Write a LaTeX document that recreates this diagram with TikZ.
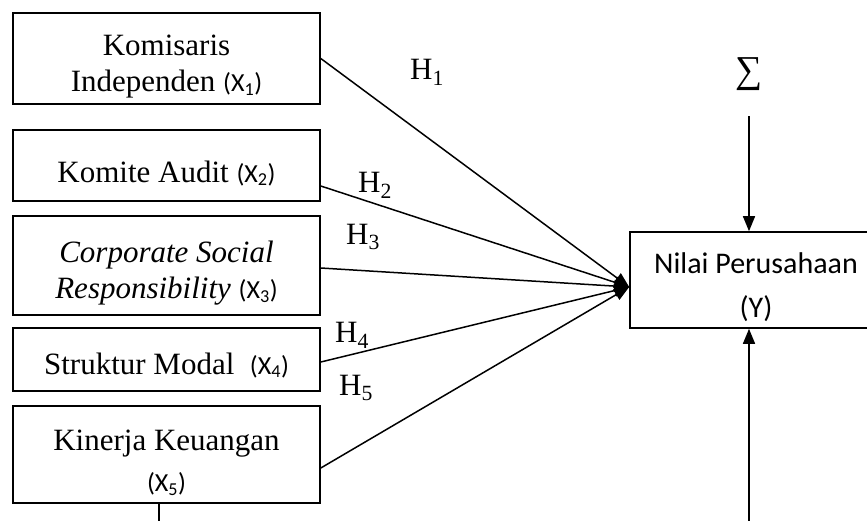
\documentclass[tikz,border=0pt]{standalone}
\usepackage{fontspec}
\setmainfont{Liberation Serif}
\newfontfamily\calfont{Carlito}
\usetikzlibrary{arrows.meta}
\newcommand{\tms}{\fontsize{31}{35.5}\selectfont}
\newcommand{\dn}{\rule{0pt}{37pt}}
\newcommand{\xv}[1]{{\calfont\fontsize{26}{30}\selectfont(X\textsubscript{#1})}}
\begin{document}
\begin{tikzpicture}[x=1pt,y=-1pt,
  box/.style={draw,line width=1.6pt,inner sep=0pt,align=center,font=\tms},
  conn/.style={line width=1.5pt},
  arr/.style={line width=1.5pt,-{Triangle[length=15pt,width=12pt]}},
  hlab/.style={font=\tms,inner sep=0pt}]
\useasboundingbox (0,0) rectangle (867,520);
\clip (0,0) rectangle (867,520);
\node[box,minimum width=307pt,minimum height=91pt] (b1) at (166.5,58.5) {\dn Komisaris\\Independen \xv{1}};
\node[box,minimum width=307pt,minimum height=71pt] (b2) at (166.5,165.5) {\dn Komite Audit \xv{2}};
\node[box,minimum width=307pt,minimum height=99pt] (b3) at (166.5,265.5) {\dn\textit{Corporate Social}\\\textit{Responsibility} \xv{3}};
\node[box,minimum width=307pt,minimum height=63pt] (b4) at (166.5,359.5) {\rule{0pt}{33pt}Struktur Modal\ \ \xv{4}};
\node[box,minimum width=307pt,minimum height=97pt,font=\fontsize{31}{41}\selectfont] (b5) at (166.5,454.5) {\dn Kinerja Keuangan\\\xv{5}};
\node[box,minimum width=252pt,minimum height=96pt,font=\calfont\fontsize{30}{44}\selectfont] (y) at (756,280) {\rule{0pt}{36pt}Nilai Perusahaan\\(Y)};
\node[inner sep=0pt,font=\fontsize{38}{38}\selectfont] (sig) at (749,74) {∑};
\coordinate (tip) at ([yshift=-7pt]y.west);
\coordinate (sigstart) at (749,116);
\coordinate (botstart) at (749,524);
\coordinate (b5end) at (159,524);
\draw[arr] (b1.east) -- (tip);
\draw[arr] ([yshift=-20.5pt]b2.east) -- (tip);
\draw[arr] ([yshift=-2.5pt]b3.east) -- (tip);
\draw[arr] ([yshift=-2.5pt]b4.east) -- (tip);
\draw[arr] ([yshift=-13.5pt]b5.east) -- (tip);
\draw[arr] (sigstart) -- ([xshift=-7pt]y.north);
\draw[arr] (botstart) -- ([xshift=-7pt]y.south);
\draw[conn] ([xshift=-7.5pt]b5.south) -- (b5end);
\node[hlab] (h1) at (427,72) {H\textsubscript{1}};
\node[hlab] (h2) at (375,185) {H\textsubscript{2}};
\node[hlab] (h3) at (363,237) {H\textsubscript{3}};
\node[hlab] (h4) at (352,335) {H\textsubscript{4}};
\node[hlab] (h5) at (356,388) {H\textsubscript{5}};
\end{tikzpicture}
\end{document}
